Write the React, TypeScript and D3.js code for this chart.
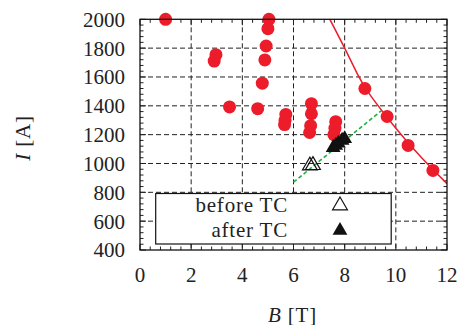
import React from 'react';
import * as d3 from 'd3';

// measured points (B [T], I [A])
const circleB = [1.0, 2.97, 2.9, 3.5, 4.6, 5.04, 5.0, 4.93, 4.88, 4.78, 5.7, 5.67, 5.65, 6.7, 6.7, 6.67, 6.63, 7.65, 7.62, 7.58, 8.79, 9.66, 10.48, 11.45];
const circleI = [2000, 1755, 1710, 1392, 1380, 2000, 1935, 1815, 1718, 1557, 1340, 1300, 1270, 1415, 1345, 1262, 1215, 1290, 1245, 1200, 1520, 1326, 1125, 952];

const beforeB = [6.64, 6.76];
const beforeI = [985, 988];
const afterB = [7.55, 7.65, 7.75, 7.9, 8.0];
const afterI = [1110, 1125, 1140, 1160, 1172];

// fit curve
const curveB = [7.42, 8, 8.5, 9, 10, 11, 12];
const curveI = [2000, 1800, 1620, 1474, 1245, 1042, 860];

const trendB = [6.0, 9.44];
const trendI = [870, 1367];

const xTicks = [0, 2, 4, 6, 8, 10, 12];
const yTicks = [400, 600, 800, 1000, 1200, 1400, 1600, 1800, 2000];

const W = 461;
const H = 325;
const left = 140, right = 447, top = 19.3, bottom = 250;
const FONT = "'Liberation Serif', 'DejaVu Serif', serif";
const RED = '#ec1c2a';
const GREEN = '#1fae3c';

const x = d3.scaleLinear().domain([0, 12]).range([left, right]);
const y = d3.scaleLinear().domain([400, 2000]).range([bottom, top]);

const tri = d3.symbol().type(d3.symbolTriangle).size(95);

const txt = { fontFamily: FONT, fontSize: 21, fill: '#222' };

export default function App() {
  const xMinor = d3.range(0, 12.001, 0.4);
  const yMinor = d3.range(400, 2000.1, 40);
  const curve = d3.line<number>()
    .x((d) => x(curveB[d]))
    .y((d) => y(curveI[d]))
    .curve(d3.curveNatural)(curveB.map((_, i) => i));
  const trend = d3.line<number>()
    .x((d) => x(trendB[d]))
    .y((d) => y(trendI[d]))(trendB.map((_, i) => i));

  return (
    <svg width={W} height={H} style={{ position: 'absolute', left: 0, top: 0, background: '#fff' }}>
      <defs>
        <clipPath id="plot">
          <rect x={left} y={top} width={right - left} height={bottom - top} />
        </clipPath>
      </defs>
      {/* grid */}
      <g stroke="#222" strokeWidth={1} strokeDasharray="5,3">
        {xTicks.slice(1, -1).map((t) => (
          <line key={'gx' + t} x1={x(t)} x2={x(t)} y1={top} y2={bottom} />
        ))}
        {yTicks.slice(1, -1).map((t) => (
          <line key={'gy' + t} x1={left} x2={right} y1={y(t)} y2={y(t)} />
        ))}
      </g>
      {/* ticks, inward on all sides */}
      <g stroke="#222" strokeWidth={1}>
        {xMinor.map((t) => {
          const major = Math.abs(t / 2 - Math.round(t / 2)) < 1e-6;
          const l = major ? 6 : 3.5;
          return (
            <g key={'tx' + t}>
              <line x1={x(t)} x2={x(t)} y1={bottom} y2={bottom - l} />
              <line x1={x(t)} x2={x(t)} y1={top} y2={top + l} />
            </g>
          );
        })}
        {yMinor.map((t) => {
          const major = Math.abs(t / 200 - Math.round(t / 200)) < 1e-6;
          const l = major ? 6 : 3.5;
          return (
            <g key={'ty' + t}>
              <line x1={left} x2={left + l} y1={y(t)} y2={y(t)} />
              <line x1={right} x2={right - l} y1={y(t)} y2={y(t)} />
            </g>
          );
        })}
      </g>
      {/* fit curve and trend line */}
      <g clipPath="url(#plot)">
        <path d={curve ?? ''} fill="none" stroke={RED} strokeWidth={1.5} />
      </g>
      <path d={trend ?? ''} fill="none" stroke={GREEN} strokeWidth={1.6} strokeDasharray="4,2.5" />
      {/* data */}
      {circleB.map((b, i) => (
        <circle key={'c' + i} cx={x(b)} cy={y(circleI[i])} r={6.5} fill={RED} />
      ))}
      {beforeB.map((b, i) => (
        <path key={'b' + i} d={tri() ?? ''} transform={`translate(${x(b)},${y(beforeI[i])})`} fill="none" stroke="#111" strokeWidth={1.2} />
      ))}
      {afterB.map((b, i) => (
        <path key={'a' + i} d={tri() ?? ''} transform={`translate(${x(b)},${y(afterI[i])})`} fill="#111" />
      ))}
      {/* legend */}
      <rect x={155.7} y={193.5} width={235.5} height={50.5} fill="#fff" stroke="#111" strokeWidth={1.2} />
      <text x={288} y={212} style={{ ...txt, textAnchor: 'end', letterSpacing: 0.8 }}>before TC</text>
      <text x={288} y={237} style={{ ...txt, textAnchor: 'end', letterSpacing: 0.8 }}>after TC</text>
      <path d={tri() ?? ''} transform="translate(340,205.5)" fill="none" stroke="#111" strokeWidth={1.2} />
      <path d={tri() ?? ''} transform="translate(340,230.5)" fill="#111" />
      {/* frame */}
      <rect x={left} y={top} width={right - left} height={bottom - top} fill="none" stroke="#111" strokeWidth={1.3} />
      {/* tick labels */}
      {xTicks.map((t) => (
        <text key={'lx' + t} x={x(t)} y={282} style={{ ...txt, textAnchor: 'middle' }}>{t}</text>
      ))}
      {yTicks.map((t) => (
        <text key={'ly' + t} x={125} y={y(t) + 7.4} style={{ ...txt, textAnchor: 'end' }}>{t}</text>
      ))}
      {/* axis titles */}
      <text x={292.5} y={321.5} style={{ ...txt, textAnchor: 'middle', letterSpacing: 0.8 }}>
        <tspan style={{ fontStyle: 'italic' }}>B</tspan> [T]
      </text>
      <text transform="translate(30,138) rotate(-90)" style={{ ...txt, textAnchor: 'middle', letterSpacing: 0.8 }}>
        <tspan style={{ fontStyle: 'italic' }}>I</tspan> [A]
      </text>
    </svg>
  );
}
